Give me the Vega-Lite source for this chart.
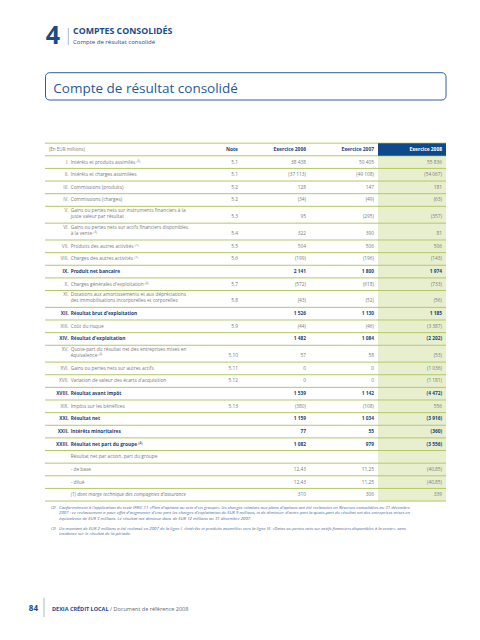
{
  "$schema": "https://vega.github.io/schema/vega-lite/v6.json",
  "width": 480,
  "height": 640,
  "padding": 0,
  "autosize": {"type": "fit", "contains": "padding"},
  "background": "white",
  "config": {
    "view": {"stroke": null},
    "font": "Open Sans",
    "text": {"font": "Open Sans"},
    "locale": {"number": {"decimal": ",", "thousands": " ", "grouping": [3], "currency": ["", " €"]}}
  },
  "datasets": {
    "rows": [
      {"key": "r1", "num": "I.", "label": "Intérêts et produits assimilés ⁽³⁾", "note": "5.1", "e2006": 38438, "e2007": 50405, "e2008": 55836, "kind": "detail"},
      {"key": "r2", "num": "II.", "label": "Intérêts et charges assimilées", "note": "5.1", "e2006": -37113, "e2007": -49108, "e2008": -54067, "kind": "detail"},
      {"key": "r3", "num": "III.", "label": "Commissions (produits)", "note": "5.2", "e2006": 128, "e2007": 147, "e2008": 181, "kind": "detail"},
      {"key": "r4", "num": "IV.", "label": "Commissions (charges)", "note": "5.2", "e2006": -34, "e2007": -49, "e2008": -63, "kind": "detail"},
      {"key": "r5", "num": "V.", "label": "Gains ou pertes nets sur instruments financiers à la\njuste valeur par résultat", "note": "5.3", "e2006": 95, "e2007": -295, "e2008": -357, "kind": "detail"},
      {"key": "r6", "num": "VI.", "label": "Gains ou pertes nets sur actifs financiers disponibles\nà la vente ⁽³⁾", "note": "5.4", "e2006": 322, "e2007": 390, "e2008": 81, "kind": "detail"},
      {"key": "r7", "num": "VII.", "label": "Produits des autres activités ⁽¹⁾", "note": "5.5", "e2006": 504, "e2007": 506, "e2008": 506, "kind": "detail"},
      {"key": "r8", "num": "VIII.", "label": "Charges des autres activités ⁽¹⁾", "note": "5.6", "e2006": -199, "e2007": -196, "e2008": -143, "kind": "detail"},
      {"key": "r9", "num": "IX.", "label": "Produit net bancaire", "note": "", "e2006": 2141, "e2007": 1800, "e2008": 1974, "kind": "total"},
      {"key": "r10", "num": "X.", "label": "Charges générales d'exploitation ⁽²⁾", "note": "5.7", "e2006": -572, "e2007": -618, "e2008": -733, "kind": "detail"},
      {"key": "r11", "num": "XI.", "label": "Dotations aux amortissements et aux dépréciations\ndes immobilisations incorporelles et corporelles", "note": "5.8", "e2006": -43, "e2007": -52, "e2008": -56, "kind": "detail"},
      {"key": "r12", "num": "XII.", "label": "Résultat brut d'exploitation", "note": "", "e2006": 1526, "e2007": 1130, "e2008": 1185, "kind": "total"},
      {"key": "r13", "num": "XIII.", "label": "Coût du risque", "note": "5.9", "e2006": -44, "e2007": -46, "e2008": -3387, "kind": "detail"},
      {"key": "r14", "num": "XIV.", "label": "Résultat d'exploitation", "note": "", "e2006": 1482, "e2007": 1084, "e2008": -2202, "kind": "total"},
      {"key": "r15", "num": "XV.", "label": "Quote-part du résultat net des entreprises mises en\néquivalence ⁽²⁾", "note": "5.10", "e2006": 57, "e2007": 58, "e2008": -53, "kind": "detail"},
      {"key": "r16", "num": "XVI.", "label": "Gains ou pertes nets sur autres actifs", "note": "5.11", "e2006": 0, "e2007": 0, "e2008": -1036, "kind": "detail"},
      {"key": "r17", "num": "XVII.", "label": "Variation de valeur des écarts d'acquisition", "note": "5.12", "e2006": 0, "e2007": 0, "e2008": -1181, "kind": "detail"},
      {"key": "r18", "num": "XVIII.", "label": "Résultat avant impôt", "note": "", "e2006": 1539, "e2007": 1142, "e2008": -4472, "kind": "total"},
      {"key": "r19", "num": "XIX.", "label": "Impôts sur les bénéfices", "note": "5.13", "e2006": -380, "e2007": -108, "e2008": 556, "kind": "detail"},
      {"key": "r20", "num": "XXI.", "label": "Résultat net", "note": "", "e2006": 1159, "e2007": 1034, "e2008": -3916, "kind": "total"},
      {"key": "r21", "num": "XXII.", "label": "Intérêts minoritaires", "note": "", "e2006": 77, "e2007": 55, "e2008": -360, "kind": "total"},
      {"key": "r22", "num": "XXIII.", "label": "Résultat net part du groupe ⁽²⁾", "note": "", "e2006": 1082, "e2007": 979, "e2008": -3556, "kind": "total"},
      {"key": "r23", "num": "", "label": "Résultat net par action, part du groupe", "note": "", "kind": "detail"},
      {"key": "r24", "num": "", "label": "- de base", "note": "", "e2006": 12.43, "e2007": 11.25, "e2008": -40.85, "kind": "detail"},
      {"key": "r25", "num": "", "label": "- dilué", "note": "", "e2006": 12.43, "e2007": 11.25, "e2008": -40.85, "kind": "detail"},
      {"key": "r26", "num": "", "label": "(1) dont marge technique des compagnies d'assurance", "note": "", "e2006": 310, "e2007": 306, "e2008": 339, "kind": "memo"}
    ]
  },
  "layer": [
    {
      "data": {"values": [{"part": "colonne 2008"}]},
      "mark": {"type": "rect", "color": "#e8efcf"},
      "encoding": {
        "x": {"datum": "e2008", "type": "nominal", "axis": null,
          "scale": {"type": "band", "domain": ["lab", "s1", "note", "e2006", "e2007", "e2008"], "paddingInner": 0, "paddingOuter": 0.5294, "align": 0.528, "round": false}},
        "y": {"datum": "r1^", "type": "nominal", "bandPosition": 0, "axis": null,
          "scale": {"type": "band", "paddingInner": 0, "paddingOuter": 0, "round": false, "domain": [
            "t0","t1","t2","t3","t4","t5","t6","t7","t8","t9","t10","t11","t12","t13","t14","t15","t16","t17","t18","t19","t20","t21","t22","t23","t24","t25","t26","t27","t28","t29","t30","t31","t32","t33",
            "H^","H","H_",
            "r1^","r1","r1_","r2^","r2","r2_","r3^","r3","r3_","r4^","r4","r4_",
            "r5^^","r5^","r5","r5_","r6^^","r6^","r6","r6_",
            "r7^","r7","r7_","r8^","r8","r8_","r9^","r9","r9_","r10^","r10","r10_",
            "r11^^","r11^","r11","r11_",
            "r12^","r12","r12_","r13^","r13","r13_","r14^","r14","r14_",
            "r15^^","r15^","r15","r15_",
            "r16^","r16","r16_","r17^","r17","r17_","r18^","r18","r18_","r19^","r19","r19_","r20^","r20","r20_","r21^","r21","r21_","r22^","r22","r22_","r23^","r23","r23_","r24^","r24","r24_","r25^","r25","r25_","r26^","r26","r26_",
            "b119","b120","b121","b122","b123","b124","b125","b126","b127","b128","b129","b130","b131","b132","b133","b134","b135","b136","b137","b138","b139","b140","b141","b142","b143","b144","b145","b146","b147","b148","b149","b150","b151"
          ]}},
        "y2": {"datum": "b119", "bandPosition": 0}
      }
    },
    {
      "data": {"values": [{"part": "cadre titre"}]},
      "mark": {"type": "rect", "filled": false, "color": "#2e5f98", "strokeWidth": 1, "cornerRadius": 4},
      "encoding": {
        "x": {"datum": "lab", "type": "nominal", "bandPosition": 0.11},
        "x2": {"datum": "e2008", "bandPosition": 1},
        "y": {"datum": "t17", "type": "nominal", "bandPosition": 0.27},
        "y2": {"datum": "t23", "bandPosition": 0.75}
      }
    },
    {
      "data": {"name": "rows"},
      "mark": {"type": "rule", "color": "#b5c765", "strokeWidth": 1, "yOffset": 4.21},
      "encoding": {
        "x": {"datum": "lab", "type": "nominal", "bandPosition": 0.103},
        "x2": {"datum": "e2008", "bandPosition": 1},
        "y": {"field": "key", "type": "nominal", "bandPosition": 1}
      }
    },
    {
      "data": {"values": [{"key": "H^"}, {"key": "r1^"}]},
      "mark": {"type": "rule", "color": "#b5c765", "strokeWidth": 1},
      "encoding": {
        "x": {"datum": "lab", "type": "nominal", "bandPosition": 0.103},
        "x2": {"datum": "e2008", "bandPosition": 1},
        "y": {"field": "key", "type": "nominal", "bandPosition": 0}
      }
    },
    {
      "data": {"values": [{"part": "entête 2008"}]},
      "mark": {"type": "rect", "color": "#0d4a8c"},
      "encoding": {
        "x": {"datum": "e2008", "type": "nominal"},
        "y": {"datum": "H^", "type": "nominal", "bandPosition": 0},
        "y2": {"datum": "r1^", "bandPosition": 0}
      }
    },
    {
      "data": {"values": [{"t": "(En EUR millions)"}]},
      "mark": {"type": "text", "align": "left", "baseline": "bottom", "dy": 2.4, "fontSize": 4.6, "color": "#7a7a7a"},
      "encoding": {
        "x": {"datum": "lab", "type": "nominal", "bandPosition": 0.16},
        "y": {"datum": "H", "type": "nominal", "bandPosition": 0.5},
        "text": {"field": "t"}
      }
    },
    {
      "data": {"values": [{"col": "note", "t": "Note"}, {"col": "e2006", "t": "Exercice 2006"}, {"col": "e2007", "t": "Exercice 2007"}]},
      "mark": {"type": "text", "align": "right", "baseline": "bottom", "dx": -4, "dy": 2.4, "fontSize": 4.9, "fontWeight": "bold", "color": "#1b3f77"},
      "encoding": {
        "x": {"field": "col", "type": "nominal", "bandPosition": 1},
        "y": {"datum": "H", "type": "nominal", "bandPosition": 0.5},
        "text": {"field": "t"}
      }
    },
    {
      "data": {"values": [{"col": "e2008", "t": "Exercice 2008"}]},
      "mark": {"type": "text", "align": "right", "baseline": "bottom", "dx": -4, "dy": 2.4, "fontSize": 4.9, "fontWeight": "bold", "color": "#ffffff"},
      "encoding": {
        "x": {"field": "col", "type": "nominal", "bandPosition": 1},
        "y": {"datum": "H", "type": "nominal", "bandPosition": 0.5},
        "text": {"field": "t"}
      }
    },
    {
      "data": {"name": "rows"},
      "transform": [{"filter": "datum.kind !== 'total' && indexof(datum.label, '\\n') < 0"}],
      "mark": {"type": "text", "align": "right", "baseline": "bottom", "dy": 2.4, "fontSize": 4.8, "color": "#7a7a7a"},
      "encoding": {
        "x": {"datum": "lab", "type": "nominal", "bandPosition": 0.45},
        "y": {"field": "key", "type": "nominal", "bandPosition": 0.5},
        "text": {"field": "num"}
      }
    },
    {
      "data": {"name": "rows"},
      "transform": [{"filter": "indexof(datum.label, '\\n') >= 0"}],
      "mark": {"type": "text", "align": "right", "baseline": "bottom", "dy": -3.8, "fontSize": 4.8, "color": "#7a7a7a"},
      "encoding": {
        "x": {"datum": "lab", "type": "nominal", "bandPosition": 0.45},
        "y": {"field": "key", "type": "nominal", "bandPosition": 0.5},
        "text": {"field": "num"}
      }
    },
    {
      "data": {"name": "rows"},
      "transform": [{"filter": "datum.kind === 'total'"}],
      "mark": {"type": "text", "align": "right", "baseline": "bottom", "dy": 2.4, "fontSize": 4.8, "fontWeight": "bold", "color": "#1b3f77"},
      "encoding": {
        "x": {"datum": "lab", "type": "nominal", "bandPosition": 0.45},
        "y": {"field": "key", "type": "nominal", "bandPosition": 0.5},
        "text": {"field": "num"}
      }
    },
    {
      "data": {"name": "rows"},
      "transform": [{"filter": "datum.kind === 'detail' && indexof(datum.label, '\\n') < 0"}],
      "mark": {"type": "text", "align": "left", "baseline": "bottom", "dy": 2.4, "fontSize": 4.8, "color": "#7a7a7a"},
      "encoding": {
        "x": {"datum": "lab", "type": "nominal", "bandPosition": 0.48},
        "y": {"field": "key", "type": "nominal", "bandPosition": 0.5},
        "text": {"field": "label"}
      }
    },
    {
      "data": {"name": "rows"},
      "transform": [{"filter": "indexof(datum.label, '\\n') >= 0"}],
      "mark": {"type": "text", "align": "left", "baseline": "bottom", "dy": -3.8, "fontSize": 4.8, "lineHeight": 6.2, "lineBreak": "\n", "color": "#7a7a7a"},
      "encoding": {
        "x": {"datum": "lab", "type": "nominal", "bandPosition": 0.48},
        "y": {"field": "key", "type": "nominal", "bandPosition": 0.5},
        "text": {"field": "label"}
      }
    },
    {
      "data": {"name": "rows"},
      "transform": [{"filter": "datum.kind === 'total'"}],
      "mark": {"type": "text", "align": "left", "baseline": "bottom", "dy": 2.4, "fontSize": 4.8, "fontWeight": "bold", "color": "#1b3f77"},
      "encoding": {
        "x": {"datum": "lab", "type": "nominal", "bandPosition": 0.48},
        "y": {"field": "key", "type": "nominal", "bandPosition": 0.5},
        "text": {"field": "label"}
      }
    },
    {
      "data": {"name": "rows"},
      "transform": [{"filter": "datum.kind === 'memo'"}],
      "mark": {"type": "text", "align": "left", "baseline": "bottom", "dy": 2.4, "fontSize": 4.8, "fontStyle": "italic", "color": "#7a7a7a"},
      "encoding": {
        "x": {"datum": "lab", "type": "nominal", "bandPosition": 0.48},
        "y": {"field": "key", "type": "nominal", "bandPosition": 0.5},
        "text": {"field": "label"}
      }
    },
    {
      "data": {"name": "rows"},
      "mark": {"type": "text", "align": "right", "baseline": "bottom", "dx": -4, "dy": 2.4, "fontSize": 4.8, "color": "#7a7a7a"},
      "encoding": {
        "x": {"datum": "note", "type": "nominal", "bandPosition": 1},
        "y": {"field": "key", "type": "nominal", "bandPosition": 0.5},
        "text": {"field": "note"}
      }
    },
    {
      "data": {"name": "rows"},
      "transform": [
        {"filter": "datum.kind !== 'total'"},
        {"fold": ["e2006", "e2007", "e2008"], "as": ["col", "val"]},
        {"filter": "isValid(datum.val)"}
      ],
      "mark": {"type": "text", "align": "right", "baseline": "bottom", "dx": -4, "dy": 2.4, "fontSize": 4.8, "color": "#7a7a7a"},
      "encoding": {
        "x": {"field": "col", "type": "nominal", "bandPosition": 1},
        "y": {"field": "key", "type": "nominal", "bandPosition": 0.5},
        "text": {"field": "val", "type": "quantitative", "format": "(,.5~g"}
      }
    },
    {
      "data": {"name": "rows"},
      "transform": [
        {"filter": "datum.kind === 'total'"},
        {"fold": ["e2006", "e2007", "e2008"], "as": ["col", "val"]},
        {"filter": "isValid(datum.val)"}
      ],
      "mark": {"type": "text", "align": "right", "baseline": "bottom", "dx": -4, "dy": 2.4, "fontSize": 4.8, "fontWeight": "bold", "color": "#1b3f77"},
      "encoding": {
        "x": {"field": "col", "type": "nominal", "bandPosition": 1},
        "y": {"field": "key", "type": "nominal", "bandPosition": 0.5},
        "text": {"field": "val", "type": "quantitative", "format": "(,.5~g"}
      }
    },
    {
      "data": {"values": [{"t": "4"}]},
      "mark": {"type": "text", "align": "left", "baseline": "alphabetic", "fontSize": 25, "fontWeight": "bold", "color": "#1b4a8a"},
      "encoding": {
        "x": {"datum": "lab", "type": "nominal", "bandPosition": 0.113},
        "y": {"datum": "t10", "type": "nominal", "bandPosition": 0.52},
        "text": {"field": "t"}
      }
    },
    {
      "data": {"values": [{"part": "filet chapitre"}]},
      "mark": {"type": "rule", "color": "#8fa9c9", "strokeWidth": 0.8},
      "encoding": {
        "x": {"datum": "lab", "type": "nominal", "bandPosition": 0.446},
        "y": {"datum": "t6", "type": "nominal", "bandPosition": 0.65},
        "y2": {"datum": "t10", "bandPosition": 0.69}
      }
    },
    {
      "data": {"values": [{"t": "COMPTES CONSOLIDÉS"}]},
      "mark": {"type": "text", "align": "left", "baseline": "alphabetic", "fontSize": 8.8, "fontWeight": "bold", "color": "#1b4a8a"},
      "encoding": {
        "x": {"datum": "lab", "type": "nominal", "bandPosition": 0.515},
        "y": {"datum": "t8", "type": "nominal", "bandPosition": 0.15},
        "text": {"field": "t"}
      }
    },
    {
      "data": {"values": [{"t": "Compte de résultat consolidé"}]},
      "mark": {"type": "text", "align": "left", "baseline": "alphabetic", "fontSize": 6, "color": "#1b4a8a"},
      "encoding": {
        "x": {"datum": "lab", "type": "nominal", "bandPosition": 0.515},
        "y": {"datum": "t10", "type": "nominal", "bandPosition": 0.45},
        "text": {"field": "t"}
      }
    },
    {
      "data": {"values": [{"t": "Compte de résultat consolidé"}]},
      "mark": {"type": "text", "align": "left", "baseline": "alphabetic", "fontSize": 13.5, "color": "#1f5a96"},
      "encoding": {
        "x": {"datum": "lab", "type": "nominal", "bandPosition": 0.225},
        "y": {"datum": "t22", "type": "nominal", "bandPosition": 0.02},
        "text": {"field": "t"}
      }
    },
    {
      "data": {"values": [{"k": "b120", "n": "(2)"}, {"k": "b125", "n": "(3)"}]},
      "mark": {"type": "text", "align": "left", "baseline": "alphabetic", "fontSize": 4.3, "fontStyle": "italic", "color": "#4a6a98"},
      "encoding": {
        "x": {"datum": "lab", "type": "nominal", "bandPosition": 0.19},
        "y": {"field": "k", "type": "nominal", "bandPosition": 0.77},
        "text": {"field": "n"}
      }
    },
    {
      "data": {"values": [
        {"k": "b120", "t": "Conformément à l'application du texte IFRIC 11 «Plan d'options au sein d'un groupe», les charges relatives aux plans d'options ont été reclassées en Réserves consolidées au 31 décembre\n2007 : ce reclassement a pour effet d'augmenter d'une part les charges d'exploitation de EUR 9 millions, et de diminuer d'autre part la quote-part du résultat net des entreprises mises en\néquivalence de EUR 3 millions. Le résultat net diminue donc de EUR 12 millions au 31 décembre 2007."},
        {"k": "b125", "t": "Un montant de EUR 2 millions a été reclassé en 2007 de la ligne I. «Intérêts et produits assimilés» vers la ligne VI. «Gains ou pertes nets sur actifs financiers disponibles à la vente», sans\nincidence sur le résultat de la période."}
      ]},
      "mark": {"type": "text", "align": "left", "baseline": "alphabetic", "fontSize": 4.3, "fontStyle": "italic", "lineHeight": 5.7, "lineBreak": "\n", "color": "#4a6a98"},
      "encoding": {
        "x": {"datum": "lab", "type": "nominal", "bandPosition": 0.31},
        "y": {"field": "k", "type": "nominal", "bandPosition": 0.77},
        "text": {"field": "t"}
      }
    },
    {
      "data": {"values": [{"t": "84"}]},
      "mark": {"type": "text", "align": "right", "baseline": "alphabetic", "fontSize": 8, "fontWeight": "bold", "color": "#1b4a8a"},
      "encoding": {
        "x": {"datum": "lab", "type": "nominal", "bandPosition": 0},
        "y": {"datum": "b145", "type": "nominal", "bandPosition": 0.11},
        "text": {"field": "t"}
      }
    },
    {
      "data": {"values": [{"part": "filet pied"}]},
      "mark": {"type": "rule", "color": "#8fa9c9", "strokeWidth": 0.8},
      "encoding": {
        "x": {"datum": "lab", "type": "nominal", "bandPosition": 0.088},
        "y": {"datum": "b142", "type": "nominal", "bandPosition": 0.02},
        "y2": {"datum": "b146", "bandPosition": 0.54}
      }
    },
    {
      "data": {"values": [{"t": "DEXIA CRÉDIT LOCAL"}]},
      "mark": {"type": "text", "align": "left", "baseline": "alphabetic", "fontSize": 5.5, "fontWeight": "bold", "color": "#1b4a8a"},
      "encoding": {
        "x": {"datum": "lab", "type": "nominal", "bandPosition": 0.206},
        "y": {"datum": "b145", "type": "nominal", "bandPosition": 0.11},
        "text": {"field": "t"}
      }
    },
    {
      "data": {"values": [{"t": "/ Document de référence 2008"}]},
      "mark": {"type": "text", "align": "left", "baseline": "alphabetic", "fontSize": 5.5, "color": "#666666"},
      "encoding": {
        "x": {"datum": "s1", "type": "nominal", "bandPosition": 0.06},
        "y": {"datum": "b145", "type": "nominal", "bandPosition": 0.11},
        "text": {"field": "t"}
      }
    }
  ]
}
